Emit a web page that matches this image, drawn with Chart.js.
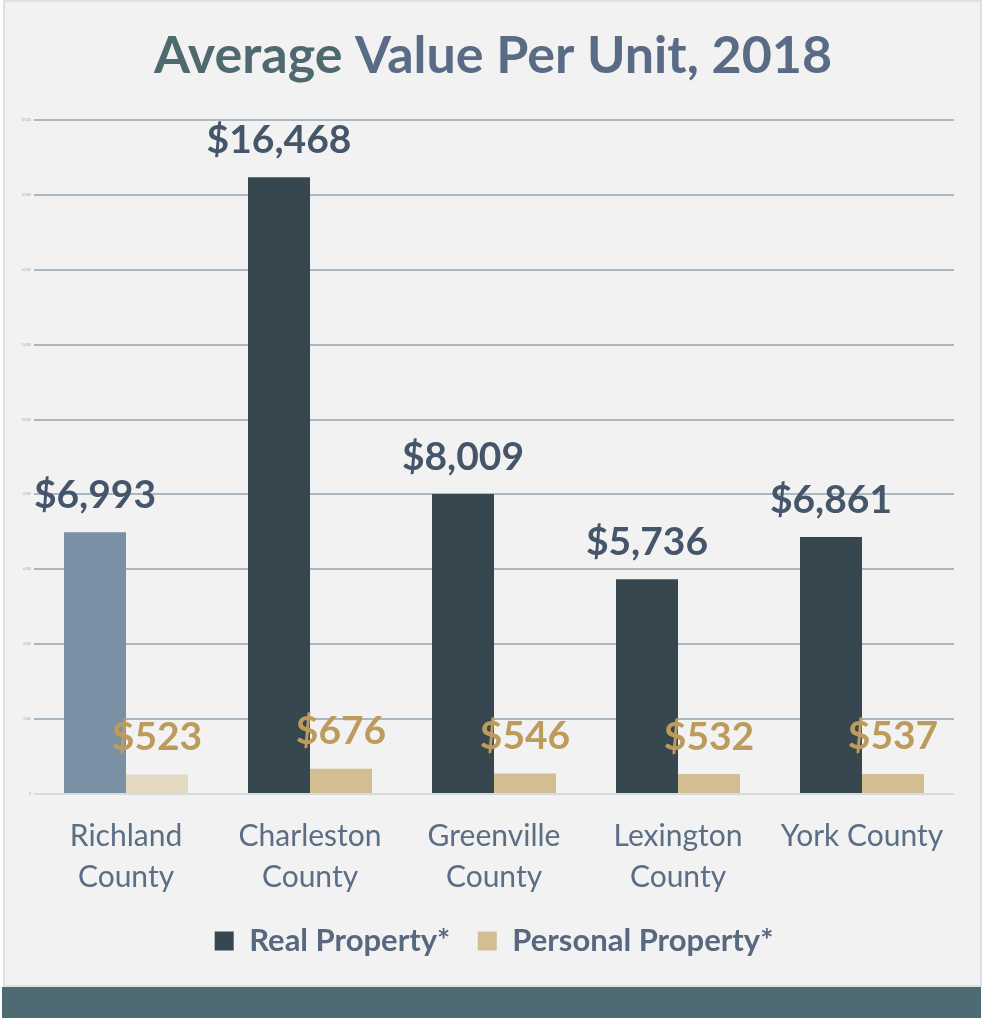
<!DOCTYPE html>
<html>
<head>
<meta charset="utf-8">
<title>Average Value Per Unit, 2018</title>
<script src="https://cdn.jsdelivr.net/npm/chart.js@4/dist/chart.umd.min.js"></script>
<style>
    html, body { margin: 0; padding: 0; background: #ffffff; }
    body { width: 985px; height: 1018px; position: relative; overflow: hidden; }
    .panel {
        position: absolute; left: 3px; top: 0; width: 979px; height: 987px;
        box-sizing: border-box; background: #f2f2f2; border: 2px solid #dde0e4;
    }
    .band {
        position: absolute; left: 2px; top: 987px; width: 979px; height: 31px;
        background: #4e6a72;
    }
    #chart { position: absolute; left: 0; top: 0; }
</style>
</head>
<body>
<div class="panel"></div>
<div class="band"></div>
<canvas id="chart" width="985" height="987"></canvas>

<script>
// Data
const categories = [['Richland', 'County'], ['Charleston', 'County'], ['Greenville', 'County'], ['Lexington', 'County'], 'York County'];
const seriesNames = ['Real Property*', 'Personal Property*'];
const realProperty = [6993, 16468, 8009, 5736, 6861];
const personalProperty = [523, 676, 546, 532, 537];
const yTicks = [0, 2000, 4000, 6000, 8000, 10000, 12000, 14000, 16000, 18000];

// Colours (first county is highlighted lighter)
const realColors = ['#7b90a5', '#36474f', '#36474f', '#36474f', '#36474f'];
const personalColors = ['#e3d9c3', '#d3be94', '#d3be94', '#d3be94', '#d3be94'];
const legendColors = ['#36474f', '#d3be94'];
const labelColors = ['#45566b', '#bd9b5c'];

document.addEventListener('DOMContentLoaded', function() {
    initChart();
});

/**
 * Title drawn in two tones
 */
const titlePlugin = {
    id: 'twoToneTitle',
    afterDraw(chart) {
        const ctx = chart.ctx;
        const partA = 'Average ';
        const partB = 'Value Per Unit, 2018';
        ctx.save();
        ctx.font = 'bold 52px Lato';
        ctx.textBaseline = 'alphabetic';
        const wA = ctx.measureText(partA).width;
        const wB = ctx.measureText(partB).width;
        const x0 = 493 - (wA + wB) / 2;
        ctx.fillStyle = '#4e6a6e';
        ctx.fillText(partA, x0, 73);
        ctx.fillStyle = '#5a6b86';
        ctx.fillText(partB, x0 + wA, 73);
        ctx.restore();
    }
};

/**
 * Value labels above each bar
 */
const valueLabelPlugin = {
    id: 'valueLabels',
    afterDatasetsDraw(chart) {
        const ctx = chart.ctx;
        ctx.save();
        ctx.font = 'bold 39px Lato';
        ctx.textAlign = 'center';
        ctx.textBaseline = 'middle';
        chart.data.datasets.forEach((ds, i) => {
            const meta = chart.getDatasetMeta(i);
            ctx.fillStyle = labelColors[i];
            meta.data.forEach((bar, j) => {
                const text = '$' + ds.data[j].toLocaleString('en-US');
                ctx.fillText(text, bar.x, bar.y - 37);
            });
        });
        ctx.restore();
    }
};

function initChart() {
    const ctx = document.getElementById('chart');

    new Chart(ctx, {
        type: 'bar',
        data: {
            labels: categories,
            datasets: [{
                label: seriesNames[0],
                data: realProperty,
                backgroundColor: realColors,
                borderWidth: 0
            }, {
                label: seriesNames[1],
                data: personalProperty,
                backgroundColor: personalColors,
                borderWidth: 0
            }]
        },
        options: {
            responsive: false,
            animation: false,
            devicePixelRatio: 1,
            categoryPercentage: 0.674,
            barPercentage: 1,
            layout: {
                padding: { top: 120, right: 31, bottom: 20.5, left: 6 }
            },
            plugins: {
                title: { display: false },
                tooltip: { enabled: false },
                legend: {
                    display: true,
                    position: 'bottom',
                    fullSize: false,
                    labels: {
                        boxWidth: 19,
                        boxHeight: 19,
                        padding: 27.5,
                        color: '#57687f',
                        font: { family: 'Lato', size: 31, weight: 'bold' },
                        generateLabels: function(chart) {
                            return chart.data.datasets.map((ds, i) => ({
                                text: ds.label,
                                fillStyle: legendColors[i],
                                strokeStyle: legendColors[i],
                                lineWidth: 0,
                                fontColor: '#57687f',
                                hidden: false,
                                datasetIndex: i
                            }));
                        }
                    }
                }
            },
            scales: {
                x: {
                    afterFit: function(scale) { scale.height = 104; },
                    grid: { display: false, drawTicks: false },
                    border: { display: false },
                    ticks: {
                        color: '#5b6e85',
                        padding: 22,
                        maxRotation: 0,
                        autoSkip: false,
                        font: { family: 'Lato', size: 30, lineHeight: 1.367 }
                    }
                },
                y: {
                    min: 0,
                    max: 18000,
                    afterFit: function(scale) { scale.width = 28; },
                    afterBuildTicks: function(scale) {
                        scale.ticks = yTicks.map(v => ({ value: v }));
                    },
                    border: { display: false },
                    grid: {
                        drawTicks: false,
                        lineWidth: 2,
                        color: function(c) {
                            return c.tick && c.tick.value === 0 ? '#d3dbe3' : '#a9b8c3';
                        }
                    },
                    ticks: {
                        color: '#a0aab5',
                        padding: 3,
                        font: { family: 'Lato', size: 3 },
                        callback: function(value) { return value.toLocaleString('en-US'); }
                    }
                }
            }
        },
        plugins: [titlePlugin, valueLabelPlugin]
    });
}
</script>
</body>
</html>
